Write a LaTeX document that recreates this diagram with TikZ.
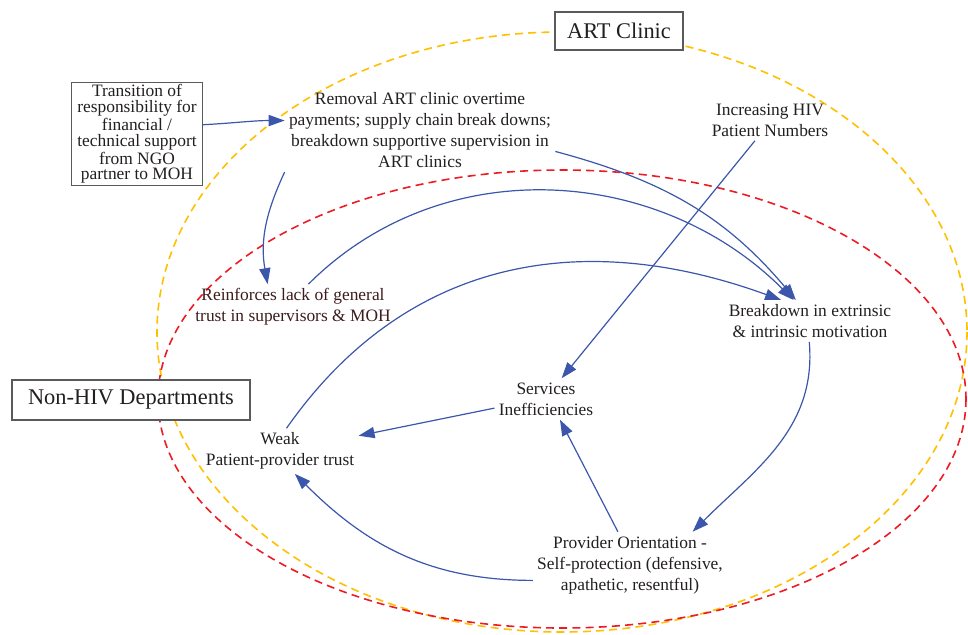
\documentclass[tikz,border=0pt]{standalone}
\usepackage{fontspec}
\setmainfont{Liberation Serif}
\usetikzlibrary{arrows.meta}
\definecolor{linkblue}{RGB}{59,86,170}
\definecolor{artgold}{RGB}{255,192,0}
\definecolor{hivred}{RGB}{237,28,36}
\definecolor{textgray}{RGB}{35,31,32}
\definecolor{boxgray}{RGB}{90,90,90}

\begin{document}
\begin{tikzpicture}[x=0.5pt, y=-0.5pt,
  lbl/.style={align=center, text=textgray, font=\fontsize{8.7}{10.5}\selectfont, inner sep=2pt},
  box/.style={draw=boxgray, line width=0.7pt, fill=white, text=textgray, font=\fontsize{11.2}{13}\selectfont},
  link/.style={-{Triangle[length=8pt,width=5.6pt]}, draw=linkblue, line width=0.6pt},
  zone/.style={dashed, dash pattern=on 4pt off 2.6pt, line width=0.8pt}]
  \useasboundingbox (0,0) rectangle (968,634);

  % the two settings
  \draw[zone, draw=artgold] (562,332) ellipse [x radius=405, y radius=300];
  \draw[zone, draw=hivred] (562,399) ellipse [x radius=404, y radius=229];
  \node[box, minimum width=64pt, minimum height=19pt] (art) at (619,31) {ART Clinic};
  \node[box, minimum width=119pt, minimum height=20pt] (nonhiv) at (131,400) {Non-HIV Departments};

  % factors
  \node[box, font=\fontsize{8.7}{7.9}\selectfont, align=center, inner sep=1pt,
        minimum width=65.5pt, minimum height=50.5pt] (trans) at (137,134)
    {Transition of\\responsibility for\\financial /\\technical support\\from NGO\\partner to MOH};
  \node[lbl] (removal) at (420,130)
    {Removal ART clinic overtime\\payments; supply chain break downs;\\breakdown supportive supervision in\\ART clinics};
  \node[lbl] (increasing) at (770,120) {Increasing HIV\\Patient Numbers};
  \node[lbl, text={rgb,255:red,60;green,28;blue,28}] (reinf) at (293,307)
    {Reinforces lack of general\\trust in supervisors \& MOH};
  \node[lbl] (breakdown) at (810,321) {Breakdown in extrinsic\\\& intrinsic motivation};
  \node[lbl] (services) at (546,399) {Services\\Inefficiencies};
  \node[lbl] (weak) at (280,451) {Weak\\Patient-provider trust};
  \node[lbl] (provider) at (630,565)
    {Provider Orientation -\\Self-protection (defensive,\\apathetic, resentful)};

  % links
  \draw[link] (trans.8) to[out=3, in=180] (removal.176);
  \draw[link] (removal.south west) to[out=245, in=100] (reinf.138);
  \draw[link] (removal.351) to[out=-15, in=130] (breakdown.124);
  \draw[link] (reinf.56) to[out=45, in=135] (breakdown.128);
  \draw[link] (weak.74) to[out=55, in=160, looseness=1.05] (breakdown.144);
  \draw[link] (increasing.234) -- (services.53);
  \draw[link] (breakdown.268) to[out=-85, in=45] (provider.28);
  \draw[link] (provider.110) -- (services.304);
  \draw[link] (services.190) -- (weak.11);
  \draw[link] (provider.189) to[out=180, in=-45] (weak.303);
\end{tikzpicture}
\end{document}
